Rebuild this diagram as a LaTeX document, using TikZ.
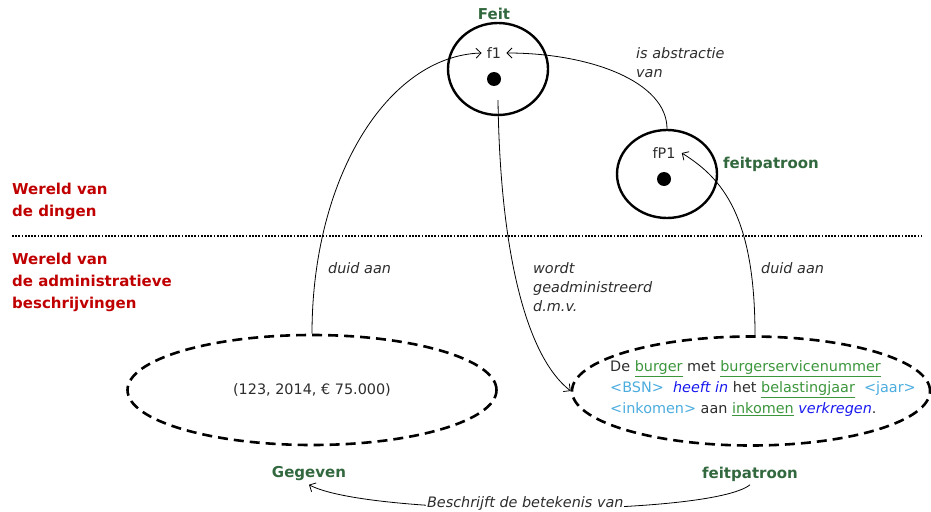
\documentclass[tikz,border=0pt]{standalone}
\usepackage{fontspec}
\setmainfont{DejaVu Sans}
\usetikzlibrary{shapes,positioning,arrows,arrows.meta,calc}
\definecolor{titlegreen}{RGB}{50,104,62}
\definecolor{worldred}{RGB}{192,0,0}
\definecolor{termgreen}{RGB}{60,150,60}
\definecolor{roleblue}{RGB}{75,172,222}
\definecolor{verbblue}{RGB}{25,25,240}
\definecolor{textgray}{RGB}{45,45,45}
\newcommand{\term}[1]{\textcolor{termgreen}{\underline{#1}}}
\newcommand{\role}[1]{\textcolor{roleblue}{#1}}
\newcommand{\verbtxt}[1]{\textcolor{verbblue}{\itshape #1}}

\begin{document}
\begin{tikzpicture}[
    x=1pt, y=1pt,
    >={Straight Barb[length=5pt,width=10pt]},
    font=\fontsize{14.4}{21}\selectfont,
    text=textgray,
    fact/.style ={
        ellipse,
        draw=black,
        line width=2.4pt,
        minimum width=100pt,
        minimum height=92pt
    },
    dot/.style ={
        circle,
        fill=black,
        minimum size=14pt,
        inner sep=0pt
    },
    cloud/.style ={
        ellipse,
        draw=black,
        line width=2.6pt,
        dash pattern=on 10pt off 6pt
    },
    ttl/.style ={
        font=\fontsize{15}{22}\selectfont\bfseries,
        text=titlegreen
    },
    world/.style ={
        font=\fontsize{15}{22}\selectfont\bfseries,
        text=worldred,
        anchor=west,
        align=left,
        inner sep=0pt
    },
    rel/.style ={
        font=\fontsize{14.4}{19}\selectfont\itshape,
        anchor=west,
        align=left,
        inner sep=0pt
    },
    lnk/.style ={
        ->,
        line width=0.8pt
    }
    ]
    \useasboundingbox (0,0) rectangle (931,-511);

    % wereld van de dingen
    \node[fact] (f1) at (498,-69) {};
    \node[fact, minimum height=88pt] (fp1) at (667,-174) {};
    \node[dot] (f1dot) at (494,-79) {};
    \node[dot] (fp1dot) at (664,-179) {};
    \node[outer sep=2pt] (f1lbl) at (494,-53) {f1};
    \node[outer sep=3pt] (fp1lbl) at (664,-153) {fP1};
    \node[ttl] (feit) at (494,-14) {Feit};
    \node[ttl] (fpttl) at (771,-164) {feitpatroon};

    \node[world] (wdingen) at (12,-201) {Wereld van\\de dingen};
    \node[world] (wadmin) at (12,-282) {Wereld van\\de administratieve\\beschrijvingen};

    \coordinate (sepl) at (12,-236);
    \coordinate (sepr) at (922,-236);
    \draw[line width=2.7pt, dash pattern=on 1.8pt off 1.4pt] (sepl) -- (sepr);

    % wereld van de administratieve beschrijvingen
    \node[cloud, minimum width=369pt, minimum height=110pt] (geg) at (312,-390) {};
    \node[cloud, minimum width=358pt, minimum height=109pt] (fpt) at (751,-391) {};
    \node (gegtxt) at (312,-390) {(123, 2014, € 75.000)};
    \node[align=left] (fpttxt) at (763,-389) {De \term{burger} met \term{burgerservicenummer}\\
        \role{<BSN>}~~\verbtxt{heeft in} het \term{belastingjaar}~~\role{<jaar>}\\
        \role{<inkomen>} aan \term{inkomen} \verbtxt{verkregen}.};
    \node[ttl] (gegttl) at (309,-474) {Gegeven};
    \node[ttl] (fpttl2) at (750,-474) {feitpatroon};

    % relaties
    \draw[lnk] (geg.north) .. controls +(0,156) and +(-94,-3) .. (f1lbl.west);
    \node[rel] (duid1) at (328,-268) {duid aan};

    \draw[lnk] (fp1.north) .. controls +(0,47) and +(84,0) .. (f1lbl.east);
    \node[rel] (abstr) at (636,-63) {is abstractie\\van};

    \draw[lnk] ([xshift=4pt]fpt.north) .. controls +(0,120) and +(40,-25) .. (fp1lbl.east);
    \node[rel] (duid2) at (761,-268) {duid aan};

    \draw[lnk] ([xshift=4pt,yshift=-14pt]f1dot.south) .. controls +(2,-150) and +(-45,35) .. (fpt.west);
    \node[rel] (admin) at (533,-287) {wordt\\geadministreerd\\d.m.v.};

    \draw[lnk] (fpttl2.south) .. controls +(-40,-32) and +(60,-32) ..
        node[pos=0.52, yshift=5pt, fill=white, inner sep=1pt, font=\fontsize{14.4}{19}\selectfont\itshape] (beschr) {Beschrijft de betekenis van}
        (gegttl.south);
\end{tikzpicture}
\end{document}
